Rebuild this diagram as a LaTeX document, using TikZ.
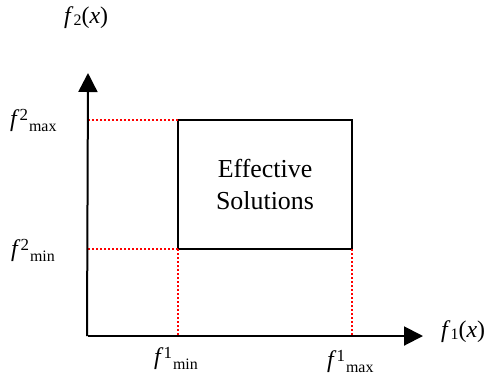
\documentclass[tikz,border=0pt]{standalone}
\usepackage{fontspec}
\setmainfont{Liberation Serif}
\usetikzlibrary{arrows.meta}
\newcommand\flab[2]{\textit{f}\raisebox{6pt}{\fontsize{17}{17}\selectfont #1}\hspace{1pt}\raisebox{-6pt}{\fontsize{16}{16}\selectfont #2}}
\newcommand\faxis[1]{\textit{f}\raisebox{-3pt}{\fontsize{16}{16}\selectfont #1}(\textit{x})}
\tikzset{
  axisline/.style={line width=2bp,-{Triangle[length=19bp,width=19bp]}},
  guide/.style={red,line width=2bp,dash pattern=on 2bp off 2bp},
  lab/.style={anchor=base west,inner sep=0pt,font=\fontsize{24}{24}\selectfont},
  box/.style={draw,line width=2bp,minimum width=174bp,minimum height=129bp,inner sep=0pt,
    outer sep=0pt,align=center,font=\fontsize{26}{32}\selectfont}
}
\begin{document}
\begin{tikzpicture}[x=1bp,y=-1bp]
\useasboundingbox (0,0) rectangle (486,385);
\coordinate (O) at (88,336);
\coordinate (ytip) at (88,73);
\coordinate (xtip) at (423,336);
\node[box] (rect) at (265,184.5) {Effective\\Solutions};
\draw[guide] (O |- rect.north west) -- (rect.north west);
\draw[guide] (O |- rect.south west) -- (rect.south west);
\draw[guide] (rect.south west) -- (rect.south west |- O);
\draw[guide] (rect.south east) -- (rect.south east |- O);
\draw[axisline] ([xshift=-1bp]O) -- (ytip);
\draw[axisline] (O) -- (xtip);
\node[lab] (ymaxl) at (10,126) {\flab{2}{max}};
\node[lab] (yminl) at (11,256) {\flab{2}{min}};
\node[lab] (xminl) at (154,364) {\flab{1}{min}};
\node[lab] (xmaxl) at (327,367) {\flab{1}{max}};
\node[lab] (ylab) at (64,23) {\faxis{2}};
\node[lab] (xlab) at (441,337) {\faxis{1}};
\end{tikzpicture}
\end{document}
